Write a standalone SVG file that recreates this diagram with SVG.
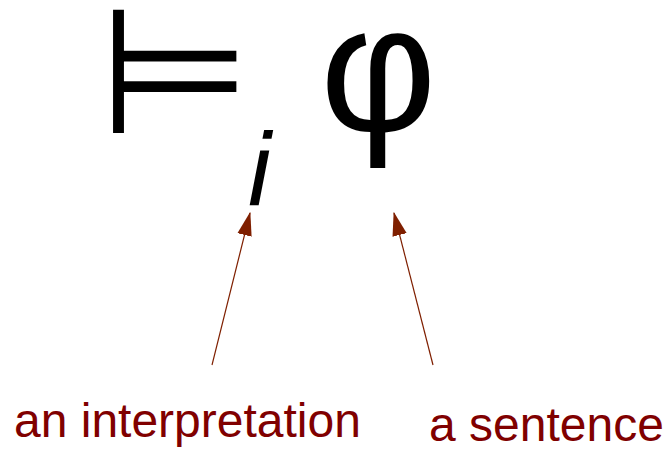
<svg xmlns="http://www.w3.org/2000/svg" width="666" height="449" viewBox="0 0 666 449">
<style>
.sym{font-family:"DejaVu Sans",sans-serif;fill:#000}
.lbl{font-family:"Liberation Sans",Arial,sans-serif;font-size:48px;fill:#800000}
.arr{stroke:#7f1f00;stroke-width:1.2;fill:none}
</style>
<defs>
<marker id="ah" markerUnits="userSpaceOnUse" markerWidth="24" markerHeight="36" refX="34" refY="11" orient="auto" viewBox="0 0 36 22">
<path d="M0,0 L36,11 L0,22 Z" fill="#7f1f00"/>
</marker>
</defs>
<rect width="666" height="449" fill="#fff"/>
<g id="entails"><text class="sym" x="98" y="133" font-size="176">⊨</text></g>
<g id="subscript-i"><text x="248" y="205" font-family="Liberation Sans, Arial, sans-serif" font-style="italic" font-size="103">i</text></g>
<g id="phi"><text x="320" y="131" font-family="Liberation Sans, Arial, sans-serif" font-size="180">φ</text></g>
<g id="connectors">
<line class="arr" x1="212" y1="365" x2="250" y2="213" marker-end="url(#ah)"/>
<line class="arr" x1="433" y1="365" x2="394" y2="213" marker-end="url(#ah)"/>
</g>
<g id="label-interpretation"><text class="lbl" x="14" y="437">an interpretation</text></g>
<g id="label-sentence"><text class="lbl" x="429" y="441">a sentence</text></g>
</svg>
